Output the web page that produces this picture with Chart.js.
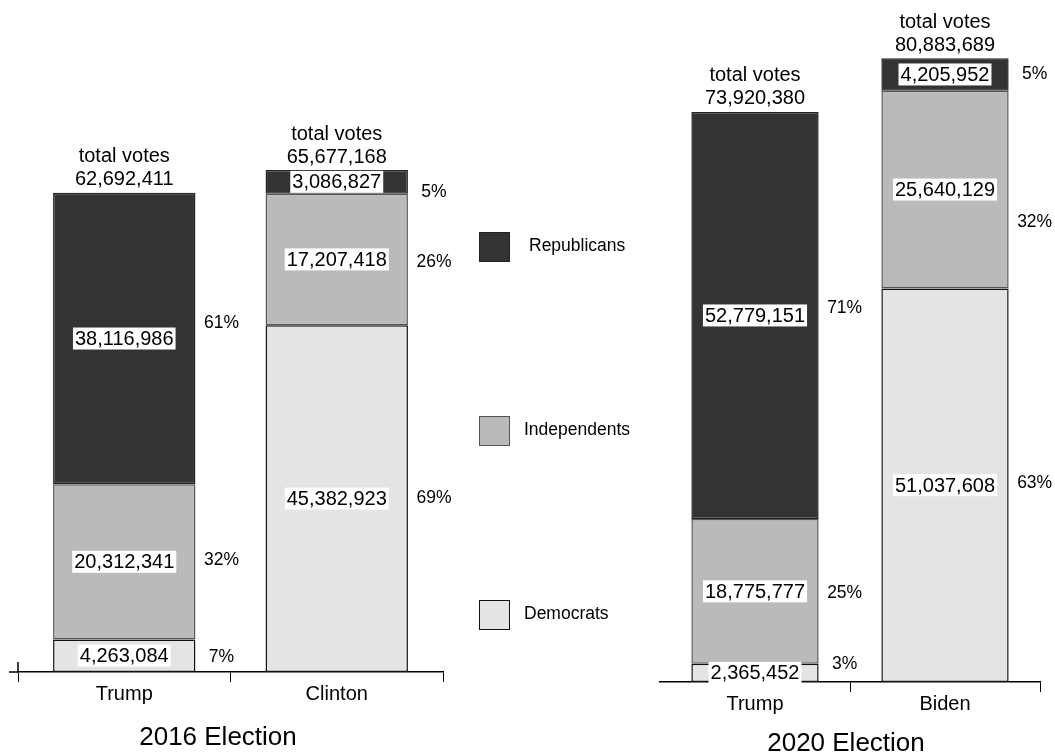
<!DOCTYPE html>
<html>
<head>
<meta charset="utf-8">
<script src="https://cdn.jsdelivr.net/npm/chart.js@4"></script>
<style>
  body { margin: 0; background: #fff; font-family: "Liberation Sans", Arial, sans-serif; }
  #wrap { position: relative; width: 1055px; height: 752px; overflow: hidden; }
  canvas { position: absolute; top: 0; }
  #c2016 { left: 0; }
  #c2020 { left: 600px; }
  .title { position: absolute; font-size: 26px; line-height: 26px; white-space: nowrap; transform: translateX(-50%); color: #000; }
  .leg { position: absolute; left: 479px; font-size: 17.5px; line-height: 30px; color: #000; }
  .leg span.box { position: absolute; left: 0; top: 0; width: 29px; height: 28px; border: 1px solid #444; }
  .leg span.txt { position: absolute; top: -2px; white-space: nowrap; }
</style>
</head>
<body>
<div id="wrap">
  <canvas id="c2016" width="460" height="752"></canvas>
  <canvas id="c2020" width="455" height="752"></canvas>
  <div class="title" style="left:218px; top:723px;">2016 Election</div>
  <div class="title" style="left:846px; top:729px;">2020 Election</div>
  <div id="legend"></div>
</div>
<script>
const FONT = '"Liberation Sans", Arial, sans-serif';

// parties, bottom of the stack first
const parties = ['Democrats', 'Independents', 'Republicans'];
const partyFill = ['#e4e4e4', '#bababa', '#333333'];
const partyBorder = ['#111111', '#555555', '#222222'];

const candidates2016 = ['Trump', 'Clinton'];
const dem2016 = [4263084, 45382923];
const ind2016 = [20312341, 17207418];
const rep2016 = [38116986, 3086827];

const candidates2020 = ['Trump', 'Biden'];
const dem2020 = [2365452, 51037608];
const ind2020 = [18775777, 25640129];
const rep2020 = [52779151, 4205952];

// value boxes inside the segments, share beside them, total on top
const valueLabels = {
  id: 'valueLabels',
  afterDatasetsDraw(chart, args, opts) {
    const ctx = chart.ctx;
    const sets = chart.data.datasets;
    const last = sets.length - 1;
    ctx.save();
    ctx.textAlign = 'center';
    ctx.textBaseline = 'middle';
    chart.data.labels.forEach((lab, i) => {
      const total = sets.reduce((s, ds) => s + ds.data[i], 0);
      sets.forEach((ds, d) => {
        const bar = chart.getDatasetMeta(d).data[i];
        const cy = (bar.y + bar.base) / 2;
        const txt = ds.data[i].toLocaleString('en-US');
        ctx.font = '20px ' + FONT;
        const w = ctx.measureText(txt).width;
        ctx.fillStyle = '#fff';
        ctx.fillRect(bar.x - w / 2 - 2, cy - 11, w + 4, 22);
        ctx.fillStyle = '#000';
        ctx.fillText(txt, bar.x, cy + 1);

        const pct = Math.round(ds.data[i] / total * 100) + '%';
        ctx.font = '17.5px ' + FONT;
        ctx.fillText(pct, bar.x + bar.width / 2 + 26, cy + 1 + opts.pctNudge[i][d]);
      });
      const top = chart.getDatasetMeta(last).data[i];
      ctx.font = '20px ' + FONT;
      ctx.fillStyle = '#000';
      ctx.fillText('total votes', top.x, top.y - 36);
      ctx.fillText(total.toLocaleString('en-US'), top.x, top.y - 13);
    });

    // short stub on the left end of the axis
    if (opts.stub) {
      const a = chart.chartArea;
      ctx.strokeStyle = '#000';
      ctx.lineWidth = 1.5;
      ctx.beginPath();
      ctx.moveTo(a.left - 9, a.bottom);
      ctx.lineTo(a.left, a.bottom);
      ctx.moveTo(a.left, a.bottom - 10);
      ctx.lineTo(a.left, a.bottom);
      ctx.stroke();
    }
    ctx.restore();
  }
};

function makeDatasets(dem, ind, rep) {
  return [dem, ind, rep].map((vals, k) => ({
    label: parties[k],
    data: vals,
    backgroundColor: partyFill[k],
    borderColor: partyBorder[k],
    borderWidth: 1.5,
    borderSkipped: false,
    barPercentage: 0.67,
    categoryPercentage: 1
  }));
}

function electionChart(id, labels, dem, ind, rep, yMax, padding, labelOpts, hideFirstTick) {
  return new Chart(document.getElementById(id), {
    type: 'bar',
    data: { labels: labels, datasets: makeDatasets(dem, ind, rep) },
    options: {
      responsive: false,
      animation: false,
      layout: { padding: padding },
      plugins: {
        legend: { display: false },
        tooltip: { enabled: false },
        valueLabels: labelOpts
      },
      scales: {
        x: {
          stacked: true,
          grid: {
            drawOnChartArea: false,
            tickLength: 10,
            lineWidth: 1,
            color: c => (hideFirstTick && c.index === 0) ? 'rgba(0,0,0,0)' : '#000'
          },
          border: { color: '#000', width: 1.5 },
          ticks: { color: '#000', padding: 0, font: { family: FONT, size: 20 } },
          afterFit: s => { s.height = 40; }
        },
        y: { stacked: true, display: false, min: 0, max: yMax }
      }
    },
    plugins: [valueLabels]
  });
}

electionChart('c2016', candidates2016, dem2016, ind2016, rep2016, 80000000,
  { left: 18, right: 17, top: 60.6, bottom: 40 },
  { stub: true, pctNudge: [[0, -3, -16], [-1, 2, 9]] }, false);

electionChart('c2020', candidates2020, dem2020, ind2020, rep2020, 85000000,
  { left: 60, right: 15, top: 26.5, bottom: 30 },
  { stub: false, pctNudge: [[-10, 1, -8], [-3, 32, -1]] }, true);

// legend, top to bottom: Republicans, Independents, Democrats
const legendTops = [600, 416, 232];
const legendTextLeft = [45, 45, 50];
const legend = document.getElementById('legend');
[2, 1, 0].forEach(k => {
  const item = document.createElement('div');
  item.className = 'leg';
  item.style.top = legendTops[k] + 'px';
  item.innerHTML = '<span class="box" style="background:' + partyFill[k] +
    '; border-color:' + partyBorder[k] + '"></span><span class="txt" style="left:' +
    legendTextLeft[k] + 'px">' + parties[k] + '</span>';
  legend.appendChild(item);
});
</script>
</body>
</html>
